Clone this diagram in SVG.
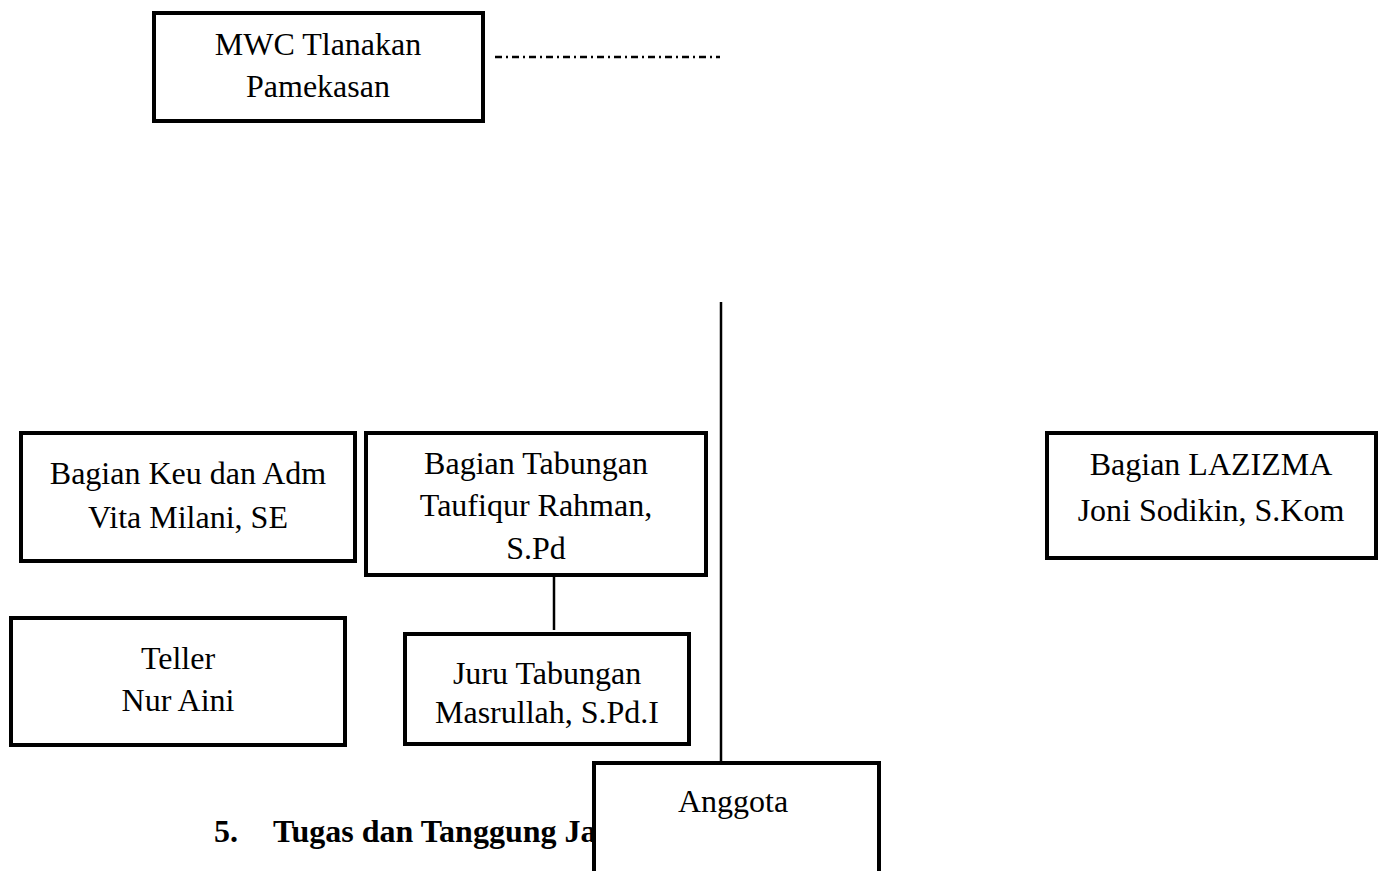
<svg xmlns="http://www.w3.org/2000/svg" width="1384" height="871" viewBox="0 0 1384 871">
<style>
.box{fill:#fff;stroke:#000;stroke-width:4}
.t{font-family:"Liberation Serif","Times New Roman",serif;font-size:32px;fill:#000;text-anchor:middle}
.b{font-family:"Liberation Serif","Times New Roman",serif;font-size:32px;font-weight:bold;fill:#000}
.ln{stroke:#000;stroke-width:2.5;fill:none}
</style>
<rect width="1384" height="871" fill="#fff"/>
<g id="connectors">
<line class="ln" x1="495" y1="57" x2="720" y2="57" stroke-width="1.5" stroke-dasharray="7,4,2,4"/>
<line class="ln" x1="721" y1="302" x2="721" y2="764"/>
<line class="ln" x1="554" y1="576" x2="554" y2="630"/>
</g>
<g id="heading">
<text class="b" x="214" y="842">5.</text>
<text class="b" x="273" y="842">Tugas dan Tanggung Ja</text>
</g>
<g id="mwc">
<rect class="box" x="154" y="13" width="329" height="108"/>
<text class="t" x="318" y="55">MWC Tlanakan</text>
<text class="t" x="318" y="97">Pamekasan</text>
</g>
<g id="keu">
<rect class="box" x="21" y="433" width="334" height="128"/>
<text class="t" x="188" y="484">Bagian Keu dan Adm</text>
<text class="t" x="188" y="528">Vita Milani, SE</text>
</g>
<g id="tabungan">
<rect class="box" x="366" y="433" width="340" height="142"/>
<text class="t" x="536" y="474">Bagian Tabungan</text>
<text class="t" x="536" y="516">Taufiqur Rahman,</text>
<text class="t" x="536" y="559">S.Pd</text>
</g>
<g id="teller">
<rect class="box" x="11" y="618" width="334" height="127"/>
<text class="t" x="178" y="669">Teller</text>
<text class="t" x="178" y="711">Nur Aini</text>
</g>
<g id="juru">
<rect class="box" x="405" y="634" width="284" height="110"/>
<text class="t" x="547" y="684">Juru Tabungan</text>
<text class="t" x="547" y="723">Masrullah, S.Pd.I</text>
</g>
<g id="anggota">
<rect class="box" x="594" y="763" width="285" height="112"/>
<text class="t" x="733" y="812">Anggota</text>
</g>
<g id="lazizma">
<rect class="box" x="1047" y="433" width="329" height="125"/>
<text class="t" x="1211" y="475">Bagian LAZIZMA</text>
<text class="t" x="1211" y="521">Joni Sodikin, S.Kom</text>
</g>
</svg>
